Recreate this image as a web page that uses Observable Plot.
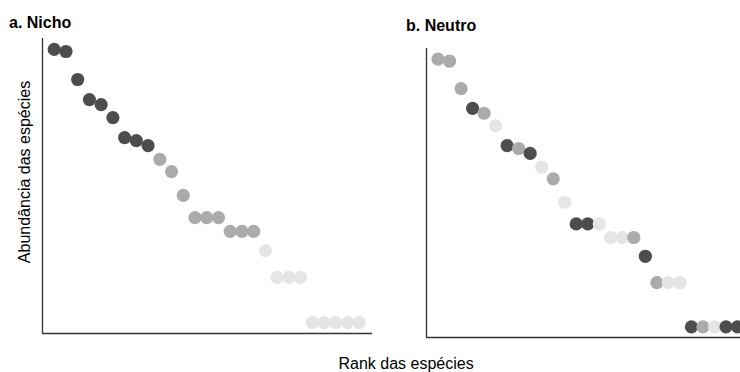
<!DOCTYPE html>
<html>
<head>
<meta charset="utf-8">
<script src="https://cdn.jsdelivr.net/npm/d3@7"></script>
<script src="https://cdn.jsdelivr.net/npm/@observablehq/plot@0.6"></script>
<style>
  html, body { margin: 0; padding: 0; background: #fff; }
  body { width: 740px; height: 372px; overflow: hidden; position: relative;
         font-family: "Liberation Sans", Arial, sans-serif; color: #000; }
  .panel { position: absolute; top: 0; width: 380px; height: 372px; }
  .panel svg { max-width: none !important; display: block; }
  .title { position: absolute; font-weight: bold; font-size: 16px; line-height: 1; white-space: nowrap; }
  .axis-label { position: absolute; font-size: 16px; line-height: 1; white-space: nowrap; }
</style>
</head>
<body>
<div id="a" class="panel" style="left:0px"></div>
<div id="b" class="panel" style="left:380px"></div>
<div class="title" style="left:9px; top:15px">a. Nicho</div>
<div class="title" style="left:406px; top:18px">b. Neutro</div>
<div class="axis-label" id="ylab">Abundância das espécies</div>
<div class="axis-label" id="xlab">Rank das espécies</div>
<script>
// Species rank (1 = most abundant)
const ranks = d3.range(1, 28);

// Relative abundance of each ranked species (same distribution in both scenarios)
const abundance = [96.3, 95.6, 86.1, 79.3, 77.6, 73.2, 66.4, 65.4, 63.7,
                   59.0, 54.9, 46.8, 39.3, 39.3, 39.3, 34.6, 34.6, 34.6,
                   28.1, 19.0, 19.0, 19.0, 3.7, 3.7, 3.7, 3.7, 3.7];

// Group membership per rank: 0 = dark, 1 = medium, 2 = light
const nichoGroup  = [0, 0, 0, 0, 0, 0, 0, 0, 0,
                     1, 1, 1, 1, 1, 1, 1, 1, 1,
                     2, 2, 2, 2, 2, 2, 2, 2, 2];
const neutroGroup = [1, 1, 1, 0, 1, 2, 0, 1, 0,
                     2, 1, 2, 0, 0, 2, 2, 2, 1,
                     0, 1, 2, 2, 0, 1, 2, 0, 0];

const groupColors = ["#4d4d4d", "#ababab", "#e5e5e5"];

function panel(groups, opts) {
  const data = ranks.map((r, i) => ({rank: r, abundance: abundance[i], group: groups[i]}));
  return Plot.plot({
    width: 380,
    height: 372,
    marginLeft: opts.left,
    marginRight: opts.right,
    marginTop: opts.top,
    marginBottom: opts.bottom,
    x: {domain: [0, 28.13], axis: null},
    y: {domain: [0, 100], axis: null},
    color: {type: "ordinal", domain: [0, 1, 2], range: groupColors},
    style: {background: "transparent", overflow: "visible", maxWidth: "none"},
    marks: [
      Plot.ruleX([0], {stroke: "#333", strokeWidth: 1.3}),
      Plot.ruleY([0], {stroke: "#333", strokeWidth: 1.3}),
      Plot.dot(data, {x: "rank", y: "abundance", fill: d => d.group, r: 6.6})
    ]
  });
}

document.getElementById("a").append(panel(nichoGroup, {left: 42, right: 8, top: 38, bottom: 39}));
document.getElementById("b").append(panel(neutroGroup, {left: 46, right: 10, top: 48, bottom: 35}));

// Shared axis titles
const ylab = document.getElementById("ylab");
const w = ylab.offsetWidth, h = ylab.offsetHeight;
ylab.style.left = (25 - w / 2) + "px";
ylab.style.top = (172 - h / 2) + "px";
ylab.style.transform = "rotate(-90deg)";
const xlab = document.getElementById("xlab");
xlab.style.left = (406 - xlab.offsetWidth / 2) + "px";
xlab.style.top = "356px";
</script>
</body>
</html>
